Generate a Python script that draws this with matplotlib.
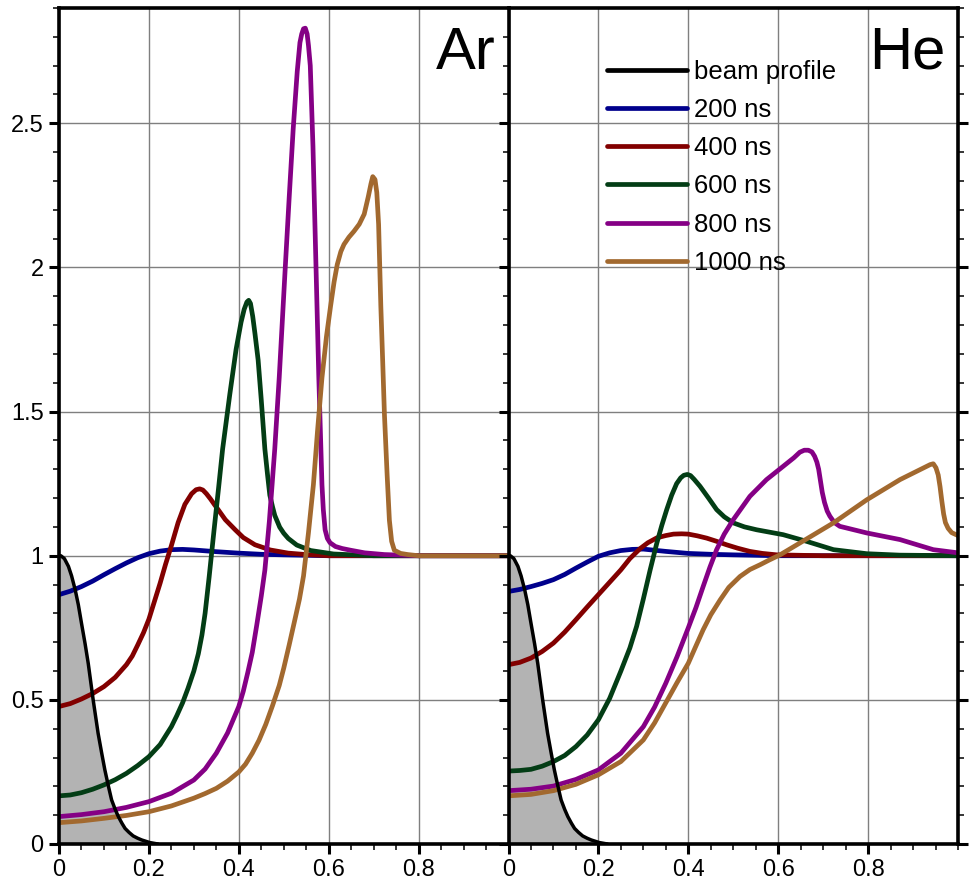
import matplotlib
matplotlib.use("Agg")
import matplotlib.pyplot as plt
from matplotlib.ticker import FixedLocator, MultipleLocator, FuncFormatter

# ---------------- data ----------------
beam_x = [0, 0.004, 0.012, 0.021, 0.028, 0.036, 0.043, 0.05, 0.058, 0.065, 0.076,
          0.087, 0.095, 0.102, 0.11, 0.117, 0.125, 0.132, 0.14, 0.147, 0.156,
          0.165, 0.175, 0.184, 0.202, 0.22]
beam_y = [1.0, 1.0, 0.99, 0.963, 0.93, 0.882, 0.83, 0.766, 0.695, 0.627, 0.5,
          0.384, 0.315, 0.257, 0.2, 0.153, 0.12, 0.095, 0.072, 0.054, 0.04,
          0.028, 0.02, 0.014, 0.005, 0.0]

# Argon
ar_200_x = [0, 0.025, 0.05, 0.075, 0.1, 0.125, 0.15, 0.175, 0.2, 0.225, 0.25,
            0.275, 0.3, 0.35, 0.4, 0.45, 0.5, 0.6, 0.8, 1.0]
ar_200_y = [0.865, 0.877, 0.893, 0.912, 0.934, 0.955, 0.975, 0.993, 1.007, 1.016,
            1.021, 1.022, 1.020, 1.014, 1.009, 1.005, 1.003, 1.0, 1.0, 1.0]

ar_400_x = [0, 0.025, 0.05, 0.075, 0.1, 0.125, 0.15, 0.163, 0.175, 0.188, 0.2,
            0.212, 0.225, 0.237, 0.25, 0.265, 0.28, 0.295, 0.305, 0.313, 0.32,
            0.328, 0.337, 0.346, 0.354, 0.37, 0.392, 0.41, 0.436, 0.47, 0.51,
            0.55, 0.6, 0.8, 1.0]
ar_400_y = [0.477, 0.487, 0.503, 0.522, 0.546, 0.578, 0.622, 0.652, 0.69, 0.733,
            0.78, 0.84, 0.905, 0.97, 1.035, 1.115, 1.178, 1.215, 1.229, 1.232,
            1.228, 1.215, 1.197, 1.177, 1.16, 1.125, 1.09, 1.063, 1.038, 1.02,
            1.009, 1.004, 1.0, 1.0, 1.0]

ar_600_x = [0, 0.025, 0.05, 0.075, 0.1, 0.125, 0.15, 0.175, 0.2, 0.225, 0.25,
            0.262, 0.275, 0.287, 0.3, 0.31, 0.318, 0.325, 0.334, 0.345, 0.355,
            0.364, 0.38, 0.394, 0.405, 0.412, 0.418, 0.422, 0.426, 0.431, 0.436,
            0.443, 0.45, 0.458, 0.464, 0.469, 0.475, 0.48, 0.491, 0.5, 0.51,
            0.529, 0.56, 0.611, 0.7, 1.0]
ar_600_y = [0.167, 0.17, 0.178, 0.19, 0.205, 0.223, 0.245, 0.272, 0.303, 0.345,
            0.407, 0.445, 0.49, 0.54, 0.60, 0.66, 0.725, 0.80, 0.926, 1.09, 1.235,
            1.37, 1.56, 1.716, 1.81, 1.855, 1.88, 1.886, 1.875, 1.83, 1.77,
            1.679, 1.54, 1.37, 1.28, 1.21, 1.17, 1.14, 1.099, 1.078, 1.06,
            1.037, 1.018, 1.006, 1.0, 1.0]

ar_800_x = [0, 0.05, 0.1, 0.15, 0.2, 0.25, 0.3, 0.325, 0.35, 0.375, 0.4, 0.41,
            0.42, 0.43, 0.44, 0.45, 0.458, 0.468, 0.48, 0.49, 0.503, 0.512, 0.521,
            0.53, 0.536, 0.54, 0.544, 0.548, 0.552, 0.555, 0.559, 0.565, 0.57,
            0.578, 0.585, 0.588, 0.592, 0.597, 0.603, 0.615, 0.63, 0.649, 0.68,
            0.724, 0.8, 1.0]
ar_800_y = [0.095, 0.102, 0.112, 0.127, 0.147, 0.176, 0.222, 0.26, 0.315, 0.385,
            0.477, 0.53, 0.595, 0.665, 0.76, 0.86, 0.95, 1.12, 1.37, 1.62, 1.99,
            2.24, 2.48, 2.68, 2.78, 2.81, 2.828, 2.83, 2.81, 2.77, 2.70, 2.42,
            2.11, 1.617, 1.247, 1.16, 1.09, 1.06, 1.045, 1.032, 1.025, 1.019,
            1.01, 1.004, 1.0, 1.0]

ar_1000_x = [0, 0.05, 0.1, 0.15, 0.2, 0.25, 0.3, 0.325, 0.35, 0.375, 0.4, 0.415,
             0.43, 0.445, 0.46, 0.475, 0.49, 0.5, 0.512, 0.525, 0.535, 0.544,
             0.555, 0.566, 0.575, 0.585, 0.595, 0.604, 0.612, 0.619, 0.627,
             0.634, 0.645, 0.656, 0.668, 0.679, 0.688, 0.694, 0.698, 0.703,
             0.707, 0.711, 0.716, 0.72, 0.724, 0.73, 0.735, 0.74, 0.746, 0.76,
             0.776, 0.8, 1.0]
ar_1000_y = [0.074, 0.08, 0.089, 0.099, 0.112, 0.132, 0.159, 0.175, 0.193, 0.218,
             0.25, 0.277, 0.315, 0.36, 0.415, 0.48, 0.55, 0.61, 0.69, 0.78,
             0.85, 0.93, 1.08, 1.247, 1.43, 1.617, 1.76, 1.864, 1.95, 2.01,
             2.055, 2.08, 2.105, 2.125, 2.15, 2.185, 2.245, 2.29, 2.315, 2.305,
             2.26, 2.15, 1.864, 1.68, 1.49, 1.28, 1.123, 1.05, 1.019, 1.008,
             1.004, 1.0, 1.0]

# Helium
he_200_x = [0, 0.025, 0.05, 0.075, 0.1, 0.125, 0.15, 0.175, 0.2, 0.225, 0.25,
            0.275, 0.3, 0.35, 0.4, 0.45, 0.5, 0.6, 1.0]
he_200_y = [0.876, 0.883, 0.893, 0.904, 0.917, 0.935, 0.957, 0.978, 0.998, 1.01,
            1.018, 1.022, 1.023, 1.015, 1.008, 1.005, 1.003, 1.0, 1.0]

he_400_x = [0, 0.025, 0.05, 0.075, 0.1, 0.125, 0.15, 0.175, 0.2, 0.225, 0.25,
            0.27, 0.293, 0.31, 0.33, 0.35, 0.367, 0.385, 0.4, 0.42, 0.441, 0.463,
            0.485, 0.51, 0.537, 0.565, 0.597, 0.7, 1.0]
he_400_y = [0.622, 0.63, 0.645, 0.668, 0.697, 0.735, 0.778, 0.822, 0.865, 0.908,
            0.951, 0.99, 1.025, 1.045, 1.062, 1.07, 1.075, 1.076, 1.075, 1.069,
            1.061, 1.05, 1.038, 1.026, 1.015, 1.008, 1.003, 1.0, 1.0]

he_600_x = [0, 0.025, 0.05, 0.075, 0.1, 0.125, 0.15, 0.175, 0.2, 0.225, 0.25,
            0.27, 0.285, 0.3, 0.315, 0.33, 0.341, 0.352, 0.363, 0.374, 0.383,
            0.39, 0.398, 0.405, 0.413, 0.426, 0.445, 0.463, 0.48, 0.5, 0.525,
            0.552, 0.611, 0.663, 0.723, 0.797, 0.87, 1.0]
he_600_y = [0.253, 0.255, 0.259, 0.27, 0.286, 0.307, 0.338, 0.378, 0.431, 0.505,
            0.600, 0.68, 0.755, 0.85, 0.95, 1.044, 1.105, 1.16, 1.21, 1.25, 1.27,
            1.279, 1.282, 1.278, 1.265, 1.241, 1.2, 1.16, 1.135, 1.114, 1.1,
            1.09, 1.073, 1.05, 1.021, 1.007, 1.002, 1.0]

he_800_x = [0, 0.05, 0.1, 0.15, 0.2, 0.25, 0.3, 0.325, 0.35, 0.375, 0.4, 0.417,
            0.433, 0.448, 0.463, 0.48, 0.5, 0.537, 0.574, 0.611, 0.635, 0.648,
            0.658, 0.667, 0.675, 0.681, 0.686, 0.69, 0.694, 0.698, 0.703, 0.709,
            0.715, 0.725, 0.737, 0.797, 0.871, 0.945, 1.0]
he_800_y = [0.185, 0.19, 0.201, 0.224, 0.257, 0.315, 0.407, 0.475, 0.558, 0.65,
            0.75, 0.82, 0.893, 0.96, 1.021, 1.075, 1.125, 1.206, 1.264, 1.31,
            1.34, 1.359, 1.366, 1.366, 1.36, 1.345, 1.325, 1.3, 1.26, 1.22,
            1.185, 1.155, 1.137, 1.115, 1.102, 1.079, 1.056, 1.021, 1.01]

he_1000_x = [0, 0.05, 0.1, 0.15, 0.2, 0.25, 0.3, 0.325, 0.35, 0.375, 0.4, 0.415,
             0.433, 0.45, 0.471, 0.49, 0.515, 0.537, 0.56, 0.58, 0.604, 0.648,
             0.723, 0.797, 0.871, 0.938, 0.945, 0.951, 0.956, 0.96, 0.964, 0.968,
             0.972, 0.978, 0.986, 1.0]
he_1000_y = [0.167, 0.172, 0.185, 0.207, 0.24, 0.286, 0.361, 0.42, 0.49, 0.56,
             0.627, 0.68, 0.743, 0.795, 0.847, 0.89, 0.928, 0.952, 0.969, 0.985,
             1.003, 1.044, 1.114, 1.194, 1.264, 1.316, 1.319, 1.305, 1.28, 1.24,
             1.19, 1.145, 1.115, 1.095, 1.08, 1.07]

series_labels = ["200 ns", "400 ns", "600 ns", "800 ns", "1000 ns"]
series_colors = ["#00008c", "#820000", "#033d15", "#850085", "#a2692f"]

panels = [
    ("Ar", [(ar_200_x, ar_200_y), (ar_400_x, ar_400_y), (ar_600_x, ar_600_y),
            (ar_800_x, ar_800_y), (ar_1000_x, ar_1000_y)]),
    ("He", [(he_200_x, he_200_y), (he_400_x, he_400_y), (he_600_x, he_600_y),
            (he_800_x, he_800_y), (he_1000_x, he_1000_y)]),
]

x_major = [0, 0.2, 0.4, 0.6, 0.8]

# ---------------- figure ----------------
narrow = ["Liberation Sans Narrow", "Liberation Sans", "DejaVu Sans"]
regular = ["Liberation Sans", "DejaVu Sans"]
plt.rcParams["font.family"] = narrow

W, H = 976, 885
fig = plt.figure(figsize=(W / 100, H / 100), dpi=100)
left_px, bottom_px, pw, ph = 59, 41, 449.5, 836
axL = fig.add_axes([left_px / W, bottom_px / H, pw / W, ph / H])
axR = fig.add_axes([(left_px + pw) / W, bottom_px / H, pw / W, ph / H], sharey=axL)

fmt = FuncFormatter(lambda v, p: "%g" % v)

for ax, (name, curves) in zip([axL, axR], panels):
    ax.set_xlim(0, 1.0)
    ax.set_ylim(0, 2.9)
    ax.set_axisbelow(True)
    ax.grid(True, which="major", color="#7f7f7f", lw=1.0)

    ax.fill_between(beam_x, beam_y, 0, color="#b3b3b3", lw=0, zorder=1)
    handles = []
    hb, = ax.plot(beam_x, beam_y, color="black", lw=2.5, zorder=4,
                  solid_capstyle="round", solid_joinstyle="round",
                  label="beam profile")
    handles.append(hb)
    for (cx, cy), lab, col in zip(curves, series_labels, series_colors):
        h, = ax.plot(cx, cy, color=col, lw=3.4, zorder=3,
                     solid_capstyle="round", solid_joinstyle="round", label=lab)
        handles.append(h)

    ax.xaxis.set_major_locator(FixedLocator(x_major))
    ax.xaxis.set_minor_locator(MultipleLocator(0.05))
    ax.yaxis.set_major_locator(MultipleLocator(0.5))
    ax.yaxis.set_minor_locator(MultipleLocator(0.1))
    ax.xaxis.set_major_formatter(fmt)
    ax.yaxis.set_major_formatter(fmt)

    for sp in ax.spines.values():
        sp.set_linewidth(2.6)
        sp.set_color("black")
        sp.set_zorder(6)

    ax.tick_params(which="major", direction="out", length=7, width=2.2,
                   labelsize=17, pad=4, colors="black")
    ax.tick_params(which="minor", direction="out", length=4.5, width=1.1)

    ax.text(0.972, 2.69, name, ha="right", va="baseline", fontsize=43,
            transform=ax.transData)

axL.tick_params(which="both", left=True, right=False, top=False)
axR.tick_params(which="both", left=True, right=True, top=False, labelleft=False)
axL.spines["right"].set_visible(False)

leg = axR.legend(handles=handles, loc="upper left",
                 bbox_to_anchor=(607 / W, 1 - 60 / H),
                 bbox_transform=fig.transFigure, frameon=False,
                 prop={"family": regular, "size": 18.5},
                 handlelength=3.1, handletextpad=0.3, labelspacing=0.55,
                 borderpad=0, borderaxespad=0)
for line in leg.get_lines():
    line.set_linewidth(3.4)

fig.savefig("out.png", dpi=100)
